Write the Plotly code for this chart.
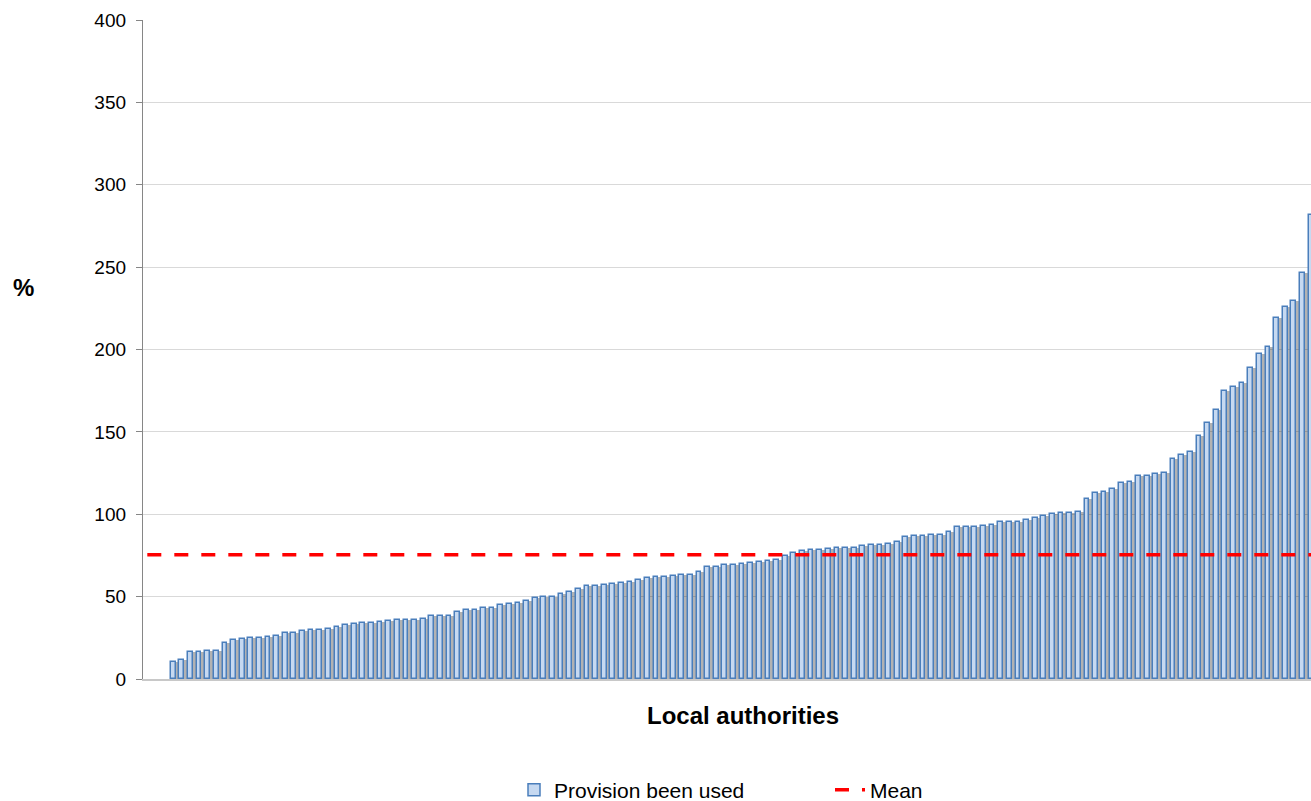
import plotly.graph_objects as go

# Share of the provision that has been used (%), one value per local authority,
# sorted ascending. The first three authorities show no bar (no value shown).
provision_used = [
    None, None, None,
    10.3, 11.4, 16.3, 16.4, 17.1, 17.1, 22.1, 23.6, 24.4, 24.7,
    24.8, 25.7, 26.1, 27.8, 27.8, 29.0, 29.7, 29.7, 30.3, 31.6,
    32.5, 33.5, 34.0, 34.2, 34.7, 35.2, 35.8, 36.0, 36.0, 36.2,
    38.0, 38.2, 38.2, 40.5, 42.1, 42.1, 43.1, 43.1, 44.7, 45.5,
    46.1, 47.3, 49.4, 49.6, 49.6, 51.4, 53.0, 54.4, 56.5, 56.7,
    56.8, 57.6, 58.3, 58.8, 59.8, 61.4, 61.8, 62.2, 62.3, 62.9,
    63.2, 65.0, 67.9, 68.2, 69.1, 69.4, 69.9, 70.7, 71.0, 71.6,
    72.2, 74.8, 76.6, 77.4, 78.1, 78.5, 79.1, 79.3, 79.5, 79.7,
    80.8, 81.1, 81.3, 82.1, 83.1, 86.4, 86.9, 87.0, 87.4, 87.5,
    89.2, 92.1, 92.4, 92.4, 92.6, 93.7, 95.1, 95.4, 95.4, 96.5,
    97.9, 99.0, 99.9, 100.5, 100.5, 101.6, 109.0, 112.9, 113.3, 115.5,
    118.9, 119.7, 123.1, 123.1, 124.3, 125.0, 133.6, 136.1, 137.5, 147.6,
    155.1, 163.3, 174.8, 177.4, 179.8, 188.9, 197.0, 201.5, 218.9, 225.7,
    229.6, 246.4, 281.6,
]
authority_rank = list(range(1, len(provision_used) + 1))
mean_value = 75.4

y_ticks = [0, 50, 100, 150, 200, 250, 300, 350, 400]
series_names = ["Provision been used", "Mean"]
x_title = "Local authorities"
y_title = "%"

FONT = "Liberation Sans, Arial, sans-serif"

fig = go.Figure()

# soft drop shadow behind each bar
fig.add_trace(go.Bar(
    x=authority_rank, y=provision_used,
    offset=-0.05, width=0.8,
    marker=dict(color="rgba(0,0,0,0.3)", line=dict(width=0)),
    showlegend=False, hoverinfo="skip",
))
fig.add_trace(go.Bar(
    x=authority_rank, y=provision_used,
    offset=-0.275, width=0.55,
    name=series_names[0], legend="legend",
    marker=dict(color="#c6d9f1", line=dict(color="#4a7ebb", width=1.5)),
))
fig.add_trace(go.Scatter(
    x=authority_rank, y=[mean_value] * len(authority_rank),
    mode="lines", name=series_names[1], legend="legend2",
    line=dict(color="#ff0000", width=3.5, dash="14px,13px"),
))

legend_common = dict(
    orientation="h", xref="container", yref="container",
    xanchor="left", yanchor="middle", y=(801 - 790) / 801,
    font=dict(family=FONT, size=21, color="#000000"),
    bgcolor="rgba(0,0,0,0)", borderwidth=0,
)

fig.update_layout(
    width=1311, height=801,
    margin=dict(l=143, r=0, t=20, b=122, pad=0),
    paper_bgcolor="white", plot_bgcolor="white",
    barmode="overlay", bargap=0,
    font=dict(family=FONT, color="#000000"),
    xaxis=dict(
        range=[0.5, 136.0], showticklabels=False, ticks="",
        showgrid=False, zeroline=False,
        showline=True, linecolor="#c8c8c8", linewidth=1.5,
    ),
    yaxis=dict(
        range=[0, 400], tickmode="array", tickvals=y_ticks,
        ticktext=[str(v) for v in y_ticks],
        showgrid=True, gridcolor="#d9d9d9", gridwidth=1.3,
        zeroline=False,
        showline=True, linecolor="#868686", linewidth=1.3,
        ticks="outside", ticklen=6, tickcolor="#868686", tickwidth=1.3,
        ticklabelstandoff=6,
        tickfont=dict(family=FONT, size=19, color="#000000"),
    ),
    legend=dict(legend_common, x=514 / 1311),
    legend2=dict(legend_common, x=830 / 1311),
    annotations=[
        dict(text="<b>" + y_title + "</b>", xref="paper", yref="paper",
             x=(23 - 143) / 1168, y=(679 - 287) / 659,
             xanchor="center", yanchor="middle", showarrow=False,
             font=dict(family=FONT, size=24, color="#000000")),
        dict(text="<b>" + x_title + "</b>", xref="paper", yref="paper",
             x=(743 - 143) / 1168, y=-(715 - 679) / 659,
             xanchor="center", yanchor="middle", showarrow=False,
             font=dict(family=FONT, size=24, color="#000000")),
    ],
)

fig.write_html("out.html", config={"displayModeBar": False},
               post_script="document.body.style.margin='0';document.body.style.overflow='hidden';")
